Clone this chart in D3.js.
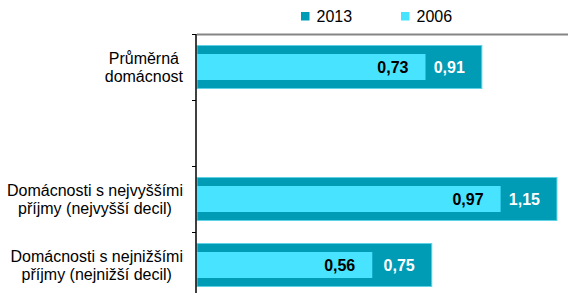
<!DOCTYPE html>
<html>
<head>
<meta charset="utf-8">
<script src="https://cdn.jsdelivr.net/npm/d3@7"></script>
<style>
  body { margin: 0; background: #fff; }
  text { font-family: Arial, "Liberation Sans", sans-serif; }
</style>
</head>
<body>
<div class="chart"></div>
<script>
// categories, top to bottom (second one is an empty slot in the original)
let categories = ["Průměrná|domácnost", "", "Domácnosti s nejvyššími|příjmy (nejvyšší decil)", "Domácnosti s nejnižšími|příjmy (nejnižší decil)"];
let values2013 = [0.91, null, 1.15, 0.75];
let values2006 = [0.73, null, 0.97, 0.56];
let seriesNames = ["2013", "2006"];

let width = 568, height = 293;
let dark = "#009bb5", light = "#48e3ff";

let svg = d3.select('.chart')
    .append('svg')
    .attr('width', width)
    .attr('height', height);

let xScale = d3.scaleLinear()
    .domain([0, 1.2])
    .range([197, 572.6]);

let yScale = d3.scaleBand()
    .domain(categories.map((c, i) => i))
    .range([34, 298])
    .padding(0);

let bw = yScale.bandwidth();

// top border of plot area
svg.append('line')
    .attr('x1', 197).attr('x2', width)
    .attr('y1', 34.5).attr('y2', 34.5)
    .style('stroke', '#858585')
    .style('stroke-width', 2);

let rows = categories.map((c, i) => ({ i: i, label: c, v13: values2013[i], v06: values2006[i] }))
    .filter(d => d.v13 != null);

// 2013 bars (wide, behind)
svg.selectAll('rect.b13')
    .data(rows)
    .enter()
    .append('rect')
    .attr('class', 'b13')
    .attr('x', xScale(0))
    .attr('y', d => yScale(d.i) + bw / 6 + 0.5)
    .attr('width', d => xScale(d.v13) - xScale(0))
    .attr('height', bw * 2 / 3 - 1)
    .style('fill', dark)
    .style('stroke', '#5fd2e6')
    .style('stroke-width', 1);

// 2006 bars (narrow, in front)
svg.selectAll('rect.b06')
    .data(rows)
    .enter()
    .append('rect')
    .attr('class', 'b06')
    .attr('x', xScale(0))
    .attr('y', d => yScale(d.i) + bw / 2 - 13)
    .attr('width', d => xScale(d.v06) - xScale(0))
    .attr('height', 26)
    .style('fill', light);

let fmt = v => d3.format('.2f')(v).replace('.', ',');

// value labels
svg.selectAll('text.l13')
    .data(rows)
    .enter()
    .append('text')
    .attr('x', d => xScale(d.v13) - 17)
    .attr('y', d => yScale(d.i) + bw / 2 + 6)
    .style('text-anchor', 'end')
    .style('font-weight', 'bold')
    .style('font-size', '16px')
    .style('fill', '#fff')
    .text(d => fmt(d.v13));

svg.selectAll('text.l06')
    .data(rows)
    .enter()
    .append('text')
    .attr('x', d => xScale(d.v06) - 17)
    .attr('y', d => yScale(d.i) + bw / 2 + 6)
    .style('text-anchor', 'end')
    .style('font-weight', 'bold')
    .style('font-size', '16px')
    .style('fill', '#000')
    .text(d => fmt(d.v06));

// axis line and ticks at band edges
svg.append('line')
    .attr('x1', 196).attr('x2', 196)
    .attr('y1', 34).attr('y2', height)
    .style('stroke', '#000')
    .style('stroke-width', 1.5);

let edges = categories.map((c, i) => yScale(i));
svg.selectAll('line.tick')
    .data(edges)
    .enter()
    .append('line')
    .attr('x1', 192).attr('x2', 196)
    .attr('y1', d => d + 0.5).attr('y2', d => d + 0.5)
    .style('stroke', '#000')
    .style('stroke-width', 1);

// category labels: block right aligned, lines centred in block
rows.forEach(d => {
    let lines = d.label.split('|');
    let g = svg.append('g');
    let cy = yScale(d.i) + bw / 2;
    let ts = lines.map((t, k) => g.append('text')
        .attr('y', cy - 3 + k * 17.5)
        .style('font-size', '16px')
        .style('fill', '#000')
        .style('text-anchor', 'middle')
        .text(t));
    let maxW = d3.max(ts, t => t.node().getComputedTextLength());
    ts.forEach(t => t.attr('x', 183 - maxW / 2));
});

// legend
let legend = svg.selectAll('g.legend')
    .data(seriesNames)
    .enter()
    .append('g')
    .attr('transform', (d, i) => `translate(${301 + i * 100}, 0)`);

legend.append('rect')
    .attr('x', 0).attr('y', 12)
    .attr('width', 8.5).attr('height', 8.5)
    .style('fill', (d, i) => i === 0 ? dark : light);

legend.append('text')
    .attr('x', 15.5).attr('y', 21.5)
    .style('font-size', '16px')
    .style('fill', '#000')
    .text(d => d);
</script>
</body>
</html>
